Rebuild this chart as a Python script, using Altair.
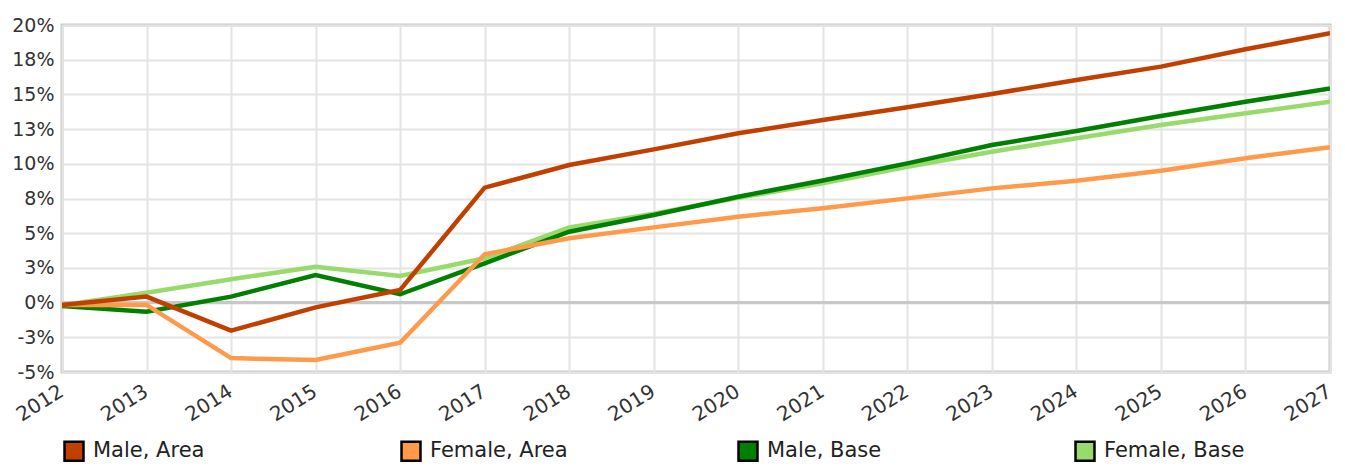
import altair as alt
import pandas as pd

years = list(range(2012, 2028))
series_names = ["Male, Area", "Female, Area", "Male, Base", "Female, Base"]
series_colors = ["#C04000", "#FF9A4A", "#008000", "#99DA6C"]

male_area = [-0.17, 0.43, -2.02, -0.34, 0.91, 8.28, 9.91, 11.04, 12.2, 13.15, 14.07, 15.03, 16.04, 17.0, 18.25, 19.4]
female_area = [-0.17, -0.17, -4.0, -4.14, -2.89, 3.48, 4.63, 5.42, 6.19, 6.8, 7.51, 8.23, 8.78, 9.5, 10.4, 11.2]
male_base = [-0.25, -0.65, 0.43, 1.99, 0.6, 2.83, 5.11, 6.31, 7.63, 8.8, 10.03, 11.35, 12.36, 13.44, 14.47, 15.42]
female_base = [-0.2, 0.71, 1.68, 2.59, 1.92, 3.19, 5.42, 6.4, 7.55, 8.6, 9.79, 10.87, 11.84, 12.8, 13.64, 14.47]

y_ticks = [-5, -2.5, 0, 2.5, 5, 7.5, 10, 12.5, 15, 17.5, 20]
zero_line = [0]

# drawing order: bottom to top
draw_order = [
    ("Female, Base", female_base),
    ("Male, Base", male_base),
    ("Female, Area", female_area),
    ("Male, Area", male_area),
]
rows = []
for k, (name, vals) in enumerate(draw_order):
    for yr, v in zip(years, vals):
        rows.append({"year": yr, "value": v, "series": name, "k": k})
df = pd.DataFrame(rows)

FONT = "DejaVu Sans"

y_scale = alt.Scale(domain=[y_ticks[0], y_ticks[-1]], nice=False, zero=False)
y_axis = alt.Axis(
    values=y_ticks, title=None, ticks=False, domain=False,
    labelExpr="(datum.value < 0 ? '-' + round(abs(datum.value)) : '' + round(datum.value)) + '%'",
    labelPadding=8, grid=True, gridColor="#e4e4e4", gridWidth=2,
    labelFont=FONT, labelFontSize=19, labelColor="#333333",
)
x_scale = alt.Scale(domain=[years[0], years[-1]], nice=False, zero=False)
x_axis = alt.Axis(
    values=years, format="d", title=None, labelAngle=-32, labelAlign="right",
    labelBaseline="top", labelPadding=9, labelOffset=-6, ticks=False, domain=False,
    grid=True, gridColor="#e4e4e4", gridWidth=2,
    labelFont=FONT, labelFontSize=20, labelColor="#333333",
)
color_scale = alt.Scale(domain=series_names, range=series_colors)
black_scale = alt.Scale(domain=series_names, range=["black"] * len(series_names))

legend_def = alt.Legend(
    title=None, orient="none", legendX=1, legendY=415, direction="horizontal",
    columns=4, gridAlign="all", columnPadding=162, symbolType="square",
    symbolSize=360, symbolStrokeWidth=2.5,
    symbolOpacity=1, labelFont=FONT, labelFontSize=21,
    labelColor="#222222", labelOffset=8, padding=0, labelLimit=300,
)

zero = alt.Chart(pd.DataFrame({"value": zero_line})).mark_rule(
    color="#c8c8c8", strokeWidth=3
).encode(y=alt.Y("value:Q", scale=y_scale, axis=y_axis))

# tiny squares at the lines' start (hidden under the lines, clipped): they carry the legend
swatches = alt.Chart(df).transform_filter(
    alt.datum.year == years[0]
).mark_point(shape="square", size=2, opacity=1, strokeWidth=2.5, clip=True).encode(
    x=alt.X("year:Q", scale=x_scale, axis=x_axis),
    y=alt.Y("value:Q", scale=y_scale, axis=y_axis),
    fill=alt.Fill("series:N", scale=color_scale, legend=legend_def),
    stroke=alt.Stroke("series:N", scale=black_scale, legend=legend_def),
)

lines = alt.Chart(df).mark_line(strokeWidth=4.5, clip=True).encode(
    x=alt.X("year:Q", scale=x_scale, axis=x_axis),
    y=alt.Y("value:Q", scale=y_scale, axis=y_axis),
    color=alt.Color("series:N", scale=color_scale, legend=None),
    detail="k:N",
    order="year:Q",
)

chart = alt.layer(zero, swatches, lines).properties(
    width=1268,
    height=347,
    autosize=alt.AutoSizeParams(type="none"),
    padding={"left": 54, "top": 17, "right": 7, "bottom": 93},
).configure_view(stroke="#c8c8c8", strokeWidth=3)

chart.save("out.html", embed_options={"renderer": "svg", "actions": False})
